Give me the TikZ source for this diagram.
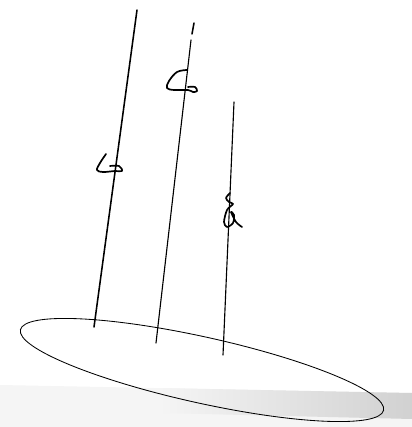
\documentclass[tikz,border=0pt]{standalone}
\usetikzlibrary{calc}

\begin{document}
\begin{tikzpicture}[
        x=0.025cm, y=-0.025cm,
        % Define styles
        pole/.style={draw, line width=1.1pt, line cap=round},
        flag/.style={draw, line width=1.2pt, line cap=round, line join=round},
        plane/.style={draw, line width=0.6pt}
    ]

    \useasboundingbox (0,0) rectangle (412,427);

    % 0. Shadow of the sheet edge
    \fill[gray!8] (0,385) -- (412,393) -- (412,427) -- (0,427) -- cycle;
    \shade[left color=gray!8, right color=gray!36] (160,388) -- (412,393) -- (412,419) -- (160,413) -- cycle;

    % 1. Plane
    \coordinate (p0) at (202,370);
    \draw[plane, rotate around={-12.5:(p0)}] (p0) ellipse (186 and 33);

    % 2. Three poles
    \coordinate (a1) at (137,10);  \coordinate (a2) at (94,327);
    \coordinate (b1) at (194,23);  \coordinate (b2) at (192,34);
    \coordinate (b3) at (191,40);  \coordinate (b4) at (156,343);
    \coordinate (c1) at (234,102); \coordinate (c2) at (223,355);

    \draw[pole] (a1) -- (a2);
    \draw[pole] (b1) -- (b2);
    \draw[pole, line width=0.8pt] (b3) -- (b4);
    \draw[pole, line width=0.8pt] (c1) -- (c2);

    % 3. Flags on the poles
    \draw[flag] plot[smooth, tension=0.6] coordinates {(106,154) (100,163) (97,170) (103,172) (115,171) (122,171) (119,166) (110,166)};
    \draw[flag] plot[smooth, tension=0.6] coordinates {(187,70) (177,72) (169,81) (167,88) (174,90) (188,90) (193,92) (197,91) (195,87) (188,87)};
    \draw[flag] plot[smooth, tension=0.5] coordinates {(230,193) (226,198) (229,202) (233,204) (227,210) (224,222) (227,227) (233,223) (234,215) (231,212) (236,222) (242,227)};

    \end{tikzpicture}
\end{document}
